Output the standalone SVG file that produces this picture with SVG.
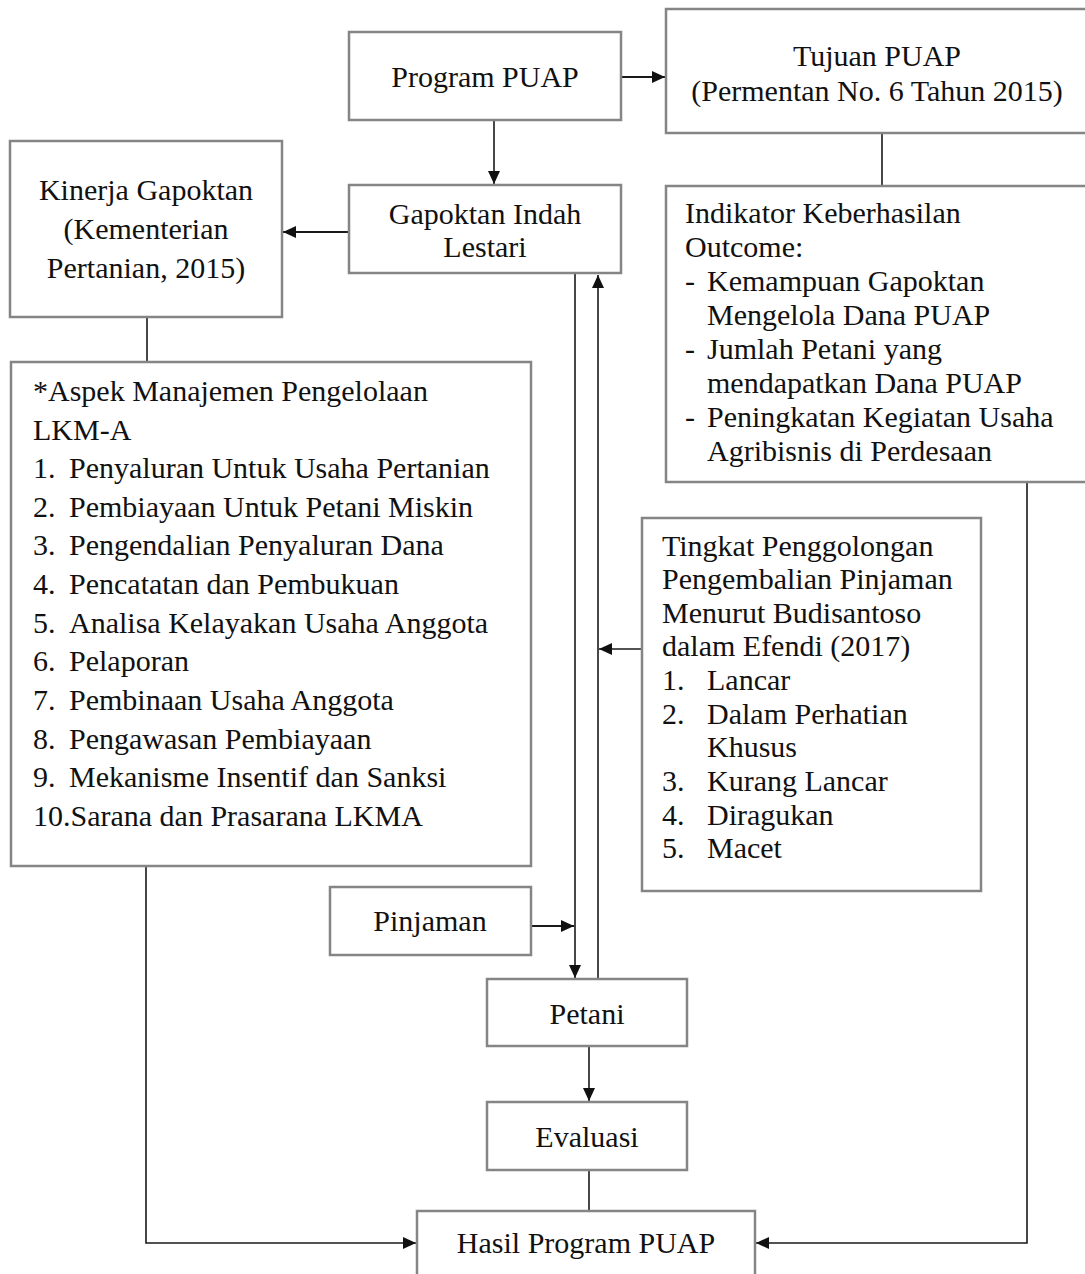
<svg xmlns="http://www.w3.org/2000/svg" width="1085" height="1274" viewBox="0 0 1085 1274">
<style>
.box{fill:#fff;stroke:#858585;stroke-width:2.5}
.t{font-family:"Liberation Serif","Times New Roman",serif;font-size:30px;fill:#111}
.c{text-anchor:middle}
.ln{fill:none;stroke:#1a1a1a;stroke-width:1.6}
.th{stroke-width:2.2}
</style>
<defs>
<marker id="ah" markerUnits="userSpaceOnUse" markerWidth="14" markerHeight="12" viewBox="0 0 14 12" refX="13" refY="6" orient="auto">
<path d="M0,0 L13,6 L0,12 Z" fill="#111"/>
</marker>
</defs>
<rect width="1085" height="1274" fill="#fff"/>

<g id="connectors">
<line class="ln th" x1="621" y1="77" x2="665" y2="77" marker-end="url(#ah)"/>
<line class="ln" x1="494" y1="120" x2="494" y2="184" marker-end="url(#ah)"/>
<line class="ln th" x1="349" y1="232" x2="283" y2="232" marker-end="url(#ah)"/>
<line class="ln" x1="882" y1="133" x2="882" y2="186"/>
<line class="ln" x1="147" y1="317" x2="147" y2="362"/>
<line class="ln" x1="575" y1="274" x2="575" y2="978" marker-end="url(#ah)"/>
<line class="ln" x1="598" y1="978" x2="598" y2="275" marker-end="url(#ah)"/>
<line class="ln" x1="642" y1="649" x2="599" y2="649" marker-end="url(#ah)"/>
<line class="ln th" x1="531" y1="926" x2="574" y2="926" marker-end="url(#ah)"/>
<line class="ln" x1="589" y1="1046" x2="589" y2="1101" marker-end="url(#ah)"/>
<line class="ln" x1="589" y1="1170" x2="589" y2="1211"/>
<polyline class="ln" points="146,866 146,1243 416,1243" marker-end="url(#ah)"/>
<polyline class="ln" points="1027,482 1027,1243 756,1243" marker-end="url(#ah)"/>
</g>

<g id="program-puap">
<rect class="box" x="349" y="32" width="272" height="88"/>
<text class="t c" x="485" y="87">Program PUAP</text>
</g>

<g id="tujuan-puap">
<rect class="box" x="666" y="9" width="430" height="124"/>
<text class="t c" x="877" y="66">Tujuan PUAP</text>
<text class="t c" x="877" y="101">(Permentan No. 6 Tahun 2015)</text>
</g>

<g id="kinerja-gapoktan">
<rect class="box" x="10" y="141" width="272" height="176"/>
<text class="t c" x="146" y="200">Kinerja Gapoktan</text>
<text class="t c" x="146" y="239">(Kementerian</text>
<text class="t c" x="146" y="278">Pertanian, 2015)</text>
</g>

<g id="gapoktan">
<rect class="box" x="349" y="185" width="272" height="88"/>
<text class="t c" x="485" y="224">Gapoktan Indah</text>
<text class="t c" x="485" y="257">Lestari</text>
</g>

<g id="indikator">
<rect class="box" x="666" y="186" width="430" height="296"/>
<text class="t" x="685" y="223">Indikator Keberhasilan</text>
<text class="t" x="685" y="257">Outcome:</text>
<text class="t" x="685" y="291">-</text>
<text class="t" x="707" y="291">Kemampuan Gapoktan</text>
<text class="t" x="707" y="325">Mengelola Dana PUAP</text>
<text class="t" x="685" y="359">-</text>
<text class="t" x="707" y="359">Jumlah Petani yang</text>
<text class="t" x="707" y="393">mendapatkan Dana PUAP</text>
<text class="t" x="685" y="427">-</text>
<text class="t" x="707" y="427">Peningkatan Kegiatan Usaha</text>
<text class="t" x="707" y="461">Agribisnis di Perdesaan</text>
</g>

<g id="aspek">
<rect class="box" x="11" y="362" width="520" height="504"/>
<text class="t" x="33" y="401">*Aspek Manajemen Pengelolaan</text>
<text class="t" x="33" y="440">LKM-A</text>
<text class="t" x="33" y="478">1.</text><text class="t" x="69" y="478">Penyaluran Untuk Usaha Pertanian</text>
<text class="t" x="33" y="517">2.</text><text class="t" x="69" y="517">Pembiayaan Untuk Petani Miskin</text>
<text class="t" x="33" y="555">3.</text><text class="t" x="69" y="555">Pengendalian Penyaluran Dana</text>
<text class="t" x="33" y="594">4.</text><text class="t" x="69" y="594">Pencatatan dan Pembukuan</text>
<text class="t" x="33" y="633">5.</text><text class="t" x="69" y="633">Analisa Kelayakan Usaha Anggota</text>
<text class="t" x="33" y="671">6.</text><text class="t" x="69" y="671">Pelaporan</text>
<text class="t" x="33" y="710">7.</text><text class="t" x="69" y="710">Pembinaan Usaha Anggota</text>
<text class="t" x="33" y="749">8.</text><text class="t" x="69" y="749">Pengawasan Pembiayaan</text>
<text class="t" x="33" y="787">9.</text><text class="t" x="69" y="787">Mekanisme Insentif dan Sanksi</text>
<text class="t" x="33" y="826">10.Sarana dan Prasarana LKMA</text>
</g>

<g id="tingkat">
<rect class="box" x="642" y="518" width="339" height="373"/>
<text class="t" x="662" y="556">Tingkat Penggolongan</text>
<text class="t" x="662" y="589">Pengembalian Pinjaman</text>
<text class="t" x="662" y="623">Menurut Budisantoso</text>
<text class="t" x="662" y="656">dalam Efendi (2017)</text>
<text class="t" x="662" y="690">1.</text><text class="t" x="707" y="690">Lancar</text>
<text class="t" x="662" y="724">2.</text><text class="t" x="707" y="724">Dalam Perhatian</text>
<text class="t" x="707" y="757">Khusus</text>
<text class="t" x="662" y="791">3.</text><text class="t" x="707" y="791">Kurang Lancar</text>
<text class="t" x="662" y="825">4.</text><text class="t" x="707" y="825">Diragukan</text>
<text class="t" x="662" y="858">5.</text><text class="t" x="707" y="858">Macet</text>
</g>

<g id="pinjaman">
<rect class="box" x="330" y="887" width="201" height="68"/>
<text class="t c" x="430" y="931">Pinjaman</text>
</g>

<g id="petani">
<rect class="box" x="487" y="979" width="200" height="67"/>
<text class="t c" x="587" y="1024">Petani</text>
</g>

<g id="evaluasi">
<rect class="box" x="487" y="1102" width="200" height="68"/>
<text class="t c" x="587" y="1147">Evaluasi</text>
</g>

<g id="hasil">
<rect class="box" x="417" y="1211" width="338" height="80"/>
<text class="t c" x="586" y="1253">Hasil Program PUAP</text>
</g>
</svg>
